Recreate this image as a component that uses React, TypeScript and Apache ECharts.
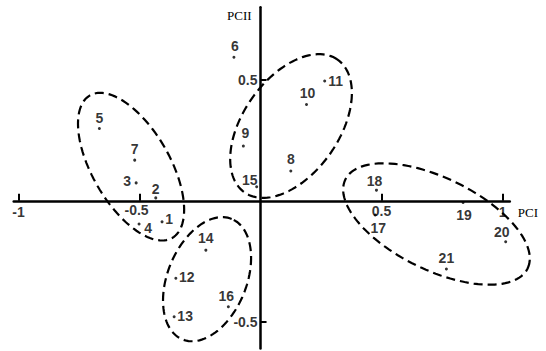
import React, { useEffect, useRef } from "react";
import * as echarts from "echarts";

// Sample numbers 1..21 and their coordinates on the two principal components
const sampleNames = ["1","2","3","4","5","6","7","8","9","10","11","12","13","14","15","16","17","18","19","20","21"];
const pc1Values = [-0.407,-0.433,-0.514,-0.502,-0.666,-0.11,-0.52,0.125,-0.071,0.19,0.265,-0.35,-0.357,-0.226,-0.016,-0.133,0.474,0.479,0.837,1.013,0.768];
const pc2Values = [-0.087,0.012,0.074,-0.096,0.299,0.593,0.168,0.123,0.226,0.398,0.495,-0.32,-0.479,-0.204,0.058,-0.438,-0.059,0.044,-0.007,-0.169,-0.282];

// Group ellipses: centre (PC1, PC2), semi-axes, rotation in degrees
const ellipseCx = [-0.535, 0.126, -0.221, 0.727];
const ellipseCy = [0.141, 0.309, -0.324, -0.096];
const ellipseA = [0.34, 0.335, 0.269, 0.419];
const ellipseB = [0.16, 0.198, 0.163, 0.19];
const ellipseAngle = [-60, 55, 67.8, -26];

// Tick values and labels
const xTickValues = [-1, -0.5, 0.5, 1];
const xTickLabels = ["-1", "-0.5", "0.5", "1"];
const yTickValues = [0.5, -0.5];
const yTickLabels = ["0.5", "-0.5"];

// Label placement (pixels relative to each dot) — styling only
const labelOffsets: [number, number][] = [
  [7, -3], [0, -9], [-9, -2], [9, 4], [0, -10], [1, -11], [0, -11],
  [0, -12], [2, -13], [1, -11], [11, 0], [11, -1], [11, -1], [0, -12],
  [-7, -7], [-2, -11], [3, 13], [-2, -9], [1, 13], [-4, -10], [0, -11],
];
const xTickLabelOffsets: [number, number][] = [[0, 11], [-3, 9], [0, 10], [0, 11]];

const SANS = "'Liberation Sans', Arial, sans-serif";
const SERIF = "'Liberation Serif', 'Times New Roman', serif";

export default function App() {
  const ref = useRef<HTMLDivElement>(null);
  useEffect(() => {
    if (!ref.current) return;
    const chart = echarts.init(ref.current, null, { renderer: "svg" });

    const pointData = sampleNames.map((n, i) => ({
      value: [pc1Values[i], pc2Values[i], n],
      label: { offset: labelOffsets[i] },
    }));
    const ellipseData = ellipseCx.map((cx, i) => [cx, ellipseCy[i], ellipseA[i], ellipseB[i], ellipseAngle[i]]);
    const xTickData = xTickValues.map((v, i) => ({ value: [v, 0, xTickLabels[i]], label: { offset: xTickLabelOffsets[i] } }));
    const yTickData = yTickValues.map((v, i) => [0, v, yTickLabels[i]]);

    const tickLabelStyle = {
      show: true,
      position: "inside",
      formatter: (p: any) => p.value[2],
      fontFamily: SANS,
      fontSize: 14,
      fontWeight: "bold",
      color: "#000",
    };

    chart.setOption({
      animation: false,
      backgroundColor: "#fff",
      grid: { left: 13.7, top: 7.2, width: 496.1, height: 341.2, containLabel: false, outerBoundsMode: "none" },
      xAxis: {
        type: "value",
        min: -1.02,
        max: 1.03,
        name: "PCI",
        nameLocation: "end",
        nameGap: 8,
        nameTextStyle: { fontFamily: SERIF, fontSize: 13, color: "#000", verticalAlign: "top", padding: [5, 0, 0, 0] },
        splitLine: { show: false },
        axisLine: { onZero: true, lineStyle: { color: "#000", width: 2.5 } },
        axisTick: { show: true, inside: true, length: 7, customValues: xTickValues, lineStyle: { color: "#000", width: 2 } },
        axisLabel: { show: false },
      },
      yAxis: {
        type: "value",
        min: -0.61,
        max: 0.8,
        name: "PCII",
        nameLocation: "end",
        nameGap: -2,
        nameTextStyle: { fontFamily: SERIF, fontSize: 13, color: "#000", align: "right", verticalAlign: "top", padding: [0, 9, 0, 0] },
        splitLine: { show: false },
        axisLine: { onZero: true, lineStyle: { color: "#000", width: 2.5 } },
        axisTick: { show: true, inside: true, length: 6, customValues: yTickValues, lineStyle: { color: "#000", width: 2 } },
        axisLabel: { show: false },
      },
      series: [
        {
          type: "custom",
          silent: true,
          coordinateSystem: "cartesian2d",
          dimensions: ["cx", "cy", "a", "b", "ang"],
          encode: { x: 0, y: 1 },
          data: ellipseData,
          renderItem: (params: any, api: any) => {
            const cx = api.value(0), cy = api.value(1), a = api.value(2), b = api.value(3);
            const th = (api.value(4) * Math.PI) / 180;
            const pts: number[][] = [];
            const N = 120;
            for (let k = 0; k < N; k++) {
              const t = (2 * Math.PI * k) / N;
              const ex = a * Math.cos(t), ey = b * Math.sin(t);
              const x = cx + ex * Math.cos(th) - ey * Math.sin(th);
              const y = cy + ex * Math.sin(th) + ey * Math.cos(th);
              pts.push(api.coord([x, y]));
            }
            return {
              type: "polygon",
              shape: { points: pts },
              style: { fill: "none", stroke: "#000", lineWidth: 2.2, lineDash: [9, 5] },
            };
          },
          z: 1,
        },
        {
          type: "scatter",
          symbol: "circle",
          symbolSize: 3,
          itemStyle: { color: "#000" },
          data: pointData,
          label: {
            show: true,
            position: "inside",
            formatter: (p: any) => p.value[2],
            fontFamily: SANS,
            fontSize: 14,
            fontWeight: "bold",
            color: "#000",
          },
          z: 3,
        },
        {
          type: "scatter",
          silent: true,
          symbolSize: 0,
          data: xTickData,
          label: { ...tickLabelStyle },
          z: 3,
        },
        {
          type: "scatter",
          silent: true,
          symbolSize: 0,
          data: yTickData,
          label: { ...tickLabelStyle, align: "right", offset: [-3, 0] },
          z: 3,
        },
      ],
    });
    return () => chart.dispose();
  }, []);
  return <div ref={ref} style={{ position: "fixed", left: 0, top: 0, width: 546, height: 351, background: "#fff" }} />;
}
